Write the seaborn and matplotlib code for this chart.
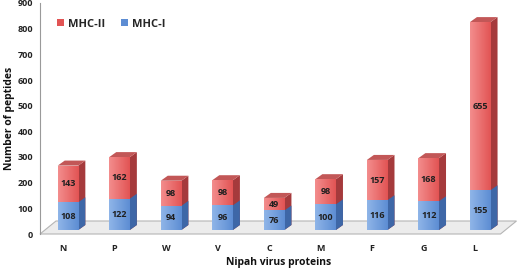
import numpy as np
import pandas as pd
import matplotlib
matplotlib.use("Agg")
import matplotlib.pyplot as plt
import seaborn as sns
from matplotlib.patches import Polygon, Patch
from matplotlib.transforms import ScaledTranslation, IdentityTransform
from matplotlib.colors import LinearSegmentedColormap

# valeurs
proteins = ["N", "P", "W", "V", "C", "M", "F", "G", "L"]
mhc1 = [108, 122, 94, 96, 76, 100, 116, 112, 155]
mhc2 = [143, 162, 98, 98, 49, 98, 157, 168, 655]
yticks = [0, 100, 200, 300, 400, 500, 600, 700, 800, 900]

df = pd.DataFrame({"protein": proteins, "MHC-I": mhc1, "MHC-II": mhc2})
df["total"] = df["MHC-I"] + df["MHC-II"]

sns.set_style("white")
plt.rcParams["font.family"] = ["Open Sans", "DejaVu Sans"]

blue_l, blue_r, blue_side = "#8fb5e8", "#5d8dd3", "#3e67a7"
red_l, red_r, red_side, red_top = "#f38d8d", "#e25454", "#a53a3c", "#c25757"

fig = plt.figure(figsize=(5.2, 2.71), dpi=100)
ax = fig.add_axes([40 / 520, 37 / 271, 478 / 520, 231 / 271])

sns.barplot(data=df, x="protein", y="total", color=red_r, width=0.4,
            saturation=1, ax=ax)
sns.barplot(data=df, x="protein", y="MHC-I", color=blue_r, width=0.4,
            saturation=1, ax=ax)

xlim = (-0.447, 8.83)
ylim = (0, 900)
ax.set_xlim(*xlim)
ax.set_ylim(*ylim)

def px(dx, dy):
    return ScaledTranslation(dx / 100, dy / 100, fig.dpi_scale_trans)

off = (5, 4)      # decalage de la face avant
depth = (7, 5)    # profondeur des barres
fdepth = (16, 13) # profondeur du sol
front = ax.transData + px(*off)

# sol
to_disp = ax.transData.transform
x0, y0 = to_disp((xlim[0], 0))
x1, _ = to_disp((8.49, 0))
floor = Polygon([(x0, y0), (x1, y0), (x1 + fdepth[0], y0 + fdepth[1]),
                 (x0 + fdepth[0], y0 + fdepth[1])], closed=True,
                transform=IdentityTransform(), facecolor="#ececec",
                edgecolor="#b5b5b5", lw=0.8, zorder=0.5, clip_on=False)
ax.add_patch(floor)

n = len(proteins)
bars_red = ax.patches[:n]
bars_blue = ax.patches[n:2 * n]

def draw_bar(p, c_left, c_right, c_side, c_top=None):
    p.set_transform(front)
    p.set_edgecolor("none")
    p.set_zorder(2)
    x, y, w, h = p.get_x(), p.get_y(), p.get_width(), p.get_height()
    cmap = LinearSegmentedColormap.from_list("g", [c_left, c_right])
    im = ax.imshow(np.linspace(0, 1, 64).reshape(1, -1), cmap=cmap,
                   extent=(x, x + w, y, y + h), aspect="auto",
                   transform=front, zorder=2.1)
    im.set_clip_path(p)
    br = front.transform((x + w, y))
    tr = front.transform((x + w, y + h))
    tl = front.transform((x, y + h))
    d = np.array(depth)
    side = Polygon([br, br + d, tr + d, tr], closed=True,
                   transform=IdentityTransform(), facecolor=c_side,
                   edgecolor="none", zorder=2, clip_on=False)
    ax.add_patch(side)
    if c_top is not None:
        top = Polygon([tl, tr, tr + d, tl + d], closed=True,
                      transform=IdentityTransform(), facecolor=c_top,
                      edgecolor="none", zorder=2, clip_on=False)
        ax.add_patch(top)

for p in bars_red:
    draw_bar(p, red_l, red_r, red_side, red_top)
for p in bars_blue:
    draw_bar(p, blue_l, blue_r, blue_side)

# etiquettes
for i in range(n):
    pb = bars_blue[i]
    cx = pb.get_x() + pb.get_width() / 2
    ax.text(cx, mhc1[i] / 2, str(mhc1[i]), transform=front, ha="center",
            va="center", fontsize=6.5, fontweight="bold", color="#1f1f1f",
            zorder=5)
    ax.text(cx, mhc1[i] + mhc2[i] / 2, str(mhc2[i]), transform=front,
            ha="center", va="center", fontsize=6.5, fontweight="bold",
            color="#1f1f1f", zorder=5)

ax.set_xlim(*xlim)
ax.set_ylim(*ylim)
ax.set_yticks(yticks)
ax.set_yticklabels([str(v) for v in yticks], fontsize=6.5, fontweight="bold",
                   color="#222222")
ax.set_xticks(range(n))
ax.set_xticklabels(proteins, fontsize=6.5, fontweight="bold", color="#222222")
ax.tick_params(axis="x", length=0, pad=7)
ax.tick_params(axis="y", length=3, width=0.8, color="#9a9a9a", pad=2)

for s in ["top", "right", "bottom"]:
    ax.spines[s].set_visible(False)
ax.spines["left"].set_color("#9a9a9a")
ax.spines["left"].set_linewidth(0.8)

ax.set_xlabel("Nipah virus proteins", fontsize=7.5, fontweight="bold",
              color="#111111", labelpad=3)
ax.set_ylabel("Number of peptides", fontsize=7.5, fontweight="bold",
              color="#111111", labelpad=2)

handles = [Patch(facecolor=red_r, edgecolor="none"),
           Patch(facecolor=blue_r, edgecolor="none")]
ax.legend(handles, ["MHC-II", "MHC-I"], loc="upper left",
          bbox_to_anchor=(0.015, 0.975), ncol=2, frameon=False,
          handlelength=0.6, handleheight=0.6, handletextpad=0.4,
          columnspacing=1.4, prop={"size": 8, "weight": "bold"})

fig.savefig("out.png", dpi=100)
